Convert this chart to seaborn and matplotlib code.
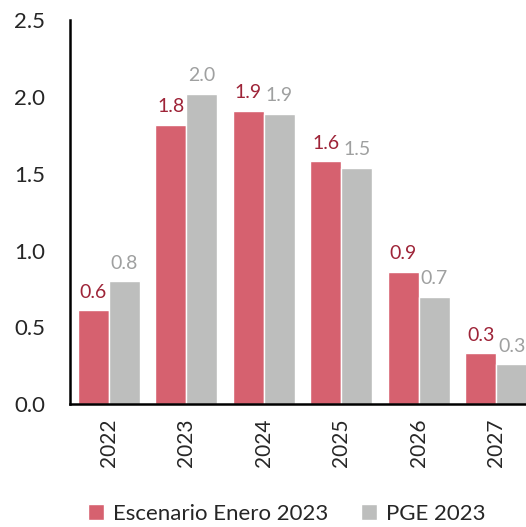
import pandas as pd
import seaborn as sns
import matplotlib.pyplot as plt

years = ["2022", "2023", "2024", "2025", "2026", "2027"]
escenario = [0.61, 1.82, 1.91, 1.58, 0.86, 0.33]
pge = [0.80, 2.02, 1.89, 1.54, 0.70, 0.26]
series = ["Escenario Enero 2023", "PGE 2023"]

df = pd.DataFrame({
    "year": years * 2,
    "value": escenario + pge,
    "serie": [series[0]] * len(years) + [series[1]] * len(years),
})

sns.set_style("white")
plt.rcParams["font.family"] = ["Lato", "DejaVu Sans"]

bar_colors = {series[0]: "#D6616F", series[1]: "#BDBEBD"}
label_colors = {series[0]: "#9E2438", series[1]: "#9FA0A0"}

fig = plt.figure(figsize=(5.26, 5.27), dpi=100)
ax = fig.add_axes([0.133, 0.233, 0.884, 0.729])
sns.barplot(data=df, x="year", y="value", hue="serie", palette=bar_colors,
            width=0.8, saturation=1, ax=ax)

for cont, name in zip(ax.containers, series):
    labels = [f"{v:.1f}" for v in cont.datavalues]
    ax.bar_label(cont, labels=labels, padding=7, fontsize=14,
                 color=label_colors[name])

ax.set_ylim(0, 2.5)
ax.set_xlim(-0.5, 5.5)
ax.set_yticks([0, 0.5, 1.0, 1.5, 2.0, 2.5])
ax.set_yticklabels([f"{t:.1f}" for t in ax.get_yticks()], fontsize=16)
ax.tick_params(axis="x", labelrotation=90, labelsize=15, length=0, pad=10)
ax.tick_params(axis="y", length=0, pad=18)
ax.set_xlabel("")
ax.set_ylabel("")
for s in ["top", "right"]:
    ax.spines[s].set_visible(False)
for s in ["left", "bottom"]:
    ax.spines[s].set_color("black")
    ax.spines[s].set_linewidth(1.8)

handles, labs = ax.get_legend_handles_labels()
ax.get_legend().remove()
fig.legend(handles, labs, loc="center", bbox_to_anchor=(0.545, 0.025), ncol=2,
           frameon=False, fontsize=16, handlelength=0.7, handleheight=0.7,
           handletextpad=0.4, columnspacing=1.5)

fig.savefig("out.png", dpi=100)
